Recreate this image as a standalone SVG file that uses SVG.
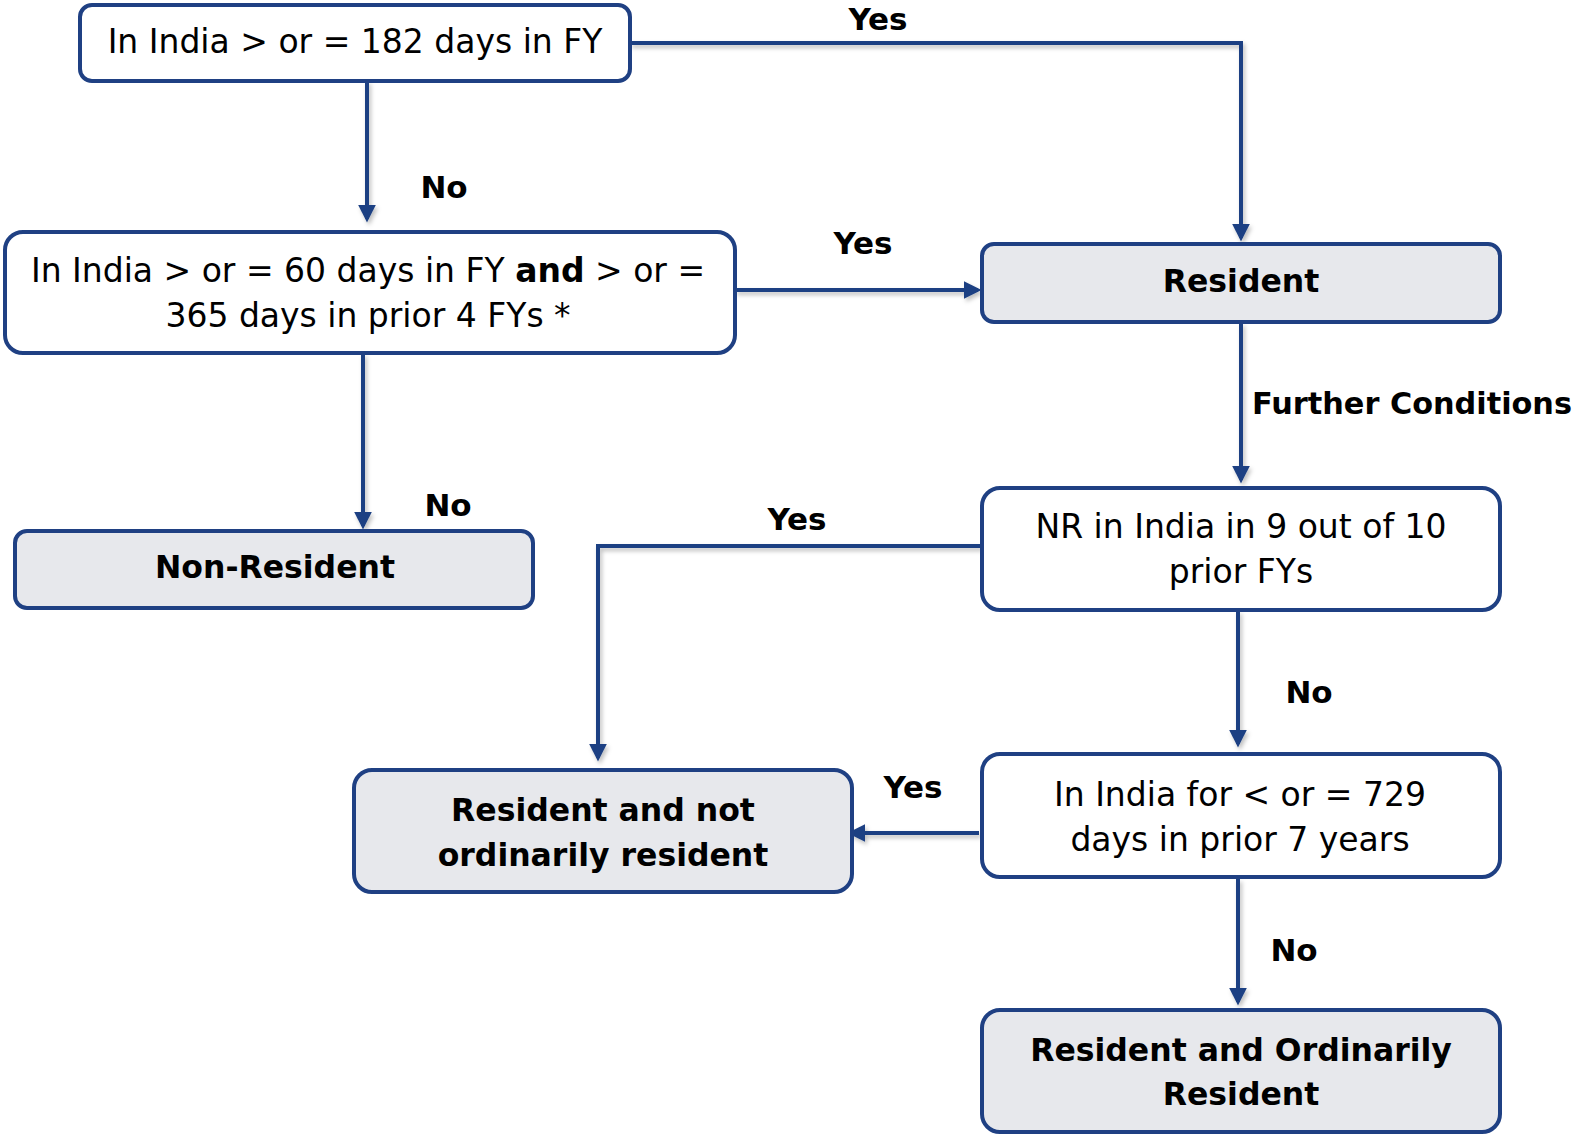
<svg xmlns="http://www.w3.org/2000/svg" width="1577" height="1135" viewBox="0 0 1577 1135">
  <style>
    .box { stroke: #1F4083; stroke-width: 4; }
    .decision { fill: #FFFFFF; }
    .result { fill: #E7E8EC; }
    .txt { font-family: "DejaVu Sans", "Liberation Sans", sans-serif; font-size: 33px; fill: #000; text-anchor: middle; dominant-baseline: central; }
    .bold { font-weight: bold; }
    .res { font-size: 31.5px; }
    .lbl { font-family: "DejaVu Sans", "Liberation Sans", sans-serif; font-size: 31px; font-weight: bold; fill: #000; dominant-baseline: central; }
    .wire { fill: none; stroke: #1F4083; stroke-width: 4; marker-end: url(#arrow); }
  </style>
  <defs>
    <marker id="arrow" viewBox="0 0 10 10" refX="8" refY="5" markerWidth="4.5" markerHeight="4.5" orient="auto" markerUnits="strokeWidth">
      <path d="M0,0 L10,5 L0,10 z" fill="#1F4083"/>
    </marker>
    <filter id="shadow" x="-5%" y="-5%" width="110%" height="120%">
      <feDropShadow dx="2" dy="3" stdDeviation="2" flood-color="#000" flood-opacity="0.25"/>
    </filter>
  </defs>

  <rect width="1577" height="1135" fill="#FFFFFF"/>

  <!-- connectors -->
  <g id="connectors" filter="url(#shadow)">
    <path class="wire" d="M630,43 H1241 V238"/>
    <path class="wire" d="M367,81 V219"/>
    <path class="wire" d="M735,290 H978"/>
    <path class="wire" d="M363,354 V526"/>
    <path class="wire" d="M1241,323 V480"/>
    <path class="wire" d="M981,546 H598 V758"/>
    <path class="wire" d="M1238,611 V744"/>
    <path class="wire" d="M979,833 H851"/>
    <path class="wire" d="M1238,879 V1002"/>
  </g>

  <!-- connector labels -->
  <g id="labels">
    <text class="lbl" x="878" y="19" text-anchor="middle">Yes</text>
    <text class="lbl" x="444" y="187" text-anchor="middle">No</text>
    <text class="lbl" x="863" y="243" text-anchor="middle">Yes</text>
    <text class="lbl" x="1252" y="403" textLength="320" lengthAdjust="spacingAndGlyphs">Further Conditions</text>
    <text class="lbl" x="448" y="505" text-anchor="middle">No</text>
    <text class="lbl" x="797" y="519" text-anchor="middle">Yes</text>
    <text class="lbl" x="1309" y="692" text-anchor="middle">No</text>
    <text class="lbl" x="913" y="787" text-anchor="middle">Yes</text>
    <text class="lbl" x="1294" y="950" text-anchor="middle">No</text>
  </g>

  <!-- nodes -->
  <g id="node-182">
    <rect class="box decision" x="80" y="5" width="550" height="76" rx="12"/>
    <text class="txt" x="355" y="41">In India &gt; or = 182 days in FY</text>
  </g>

  <g id="node-60">
    <rect class="box decision" x="5" y="232" width="730" height="121" rx="18"/>
    <text class="txt" x="368" y="270">In India &gt; or = 60 days in FY <tspan class="bold">and</tspan> &gt; or =</text>
    <text class="txt" x="368" y="315">365 days in prior 4 FYs *</text>
  </g>

  <g id="node-resident">
    <rect class="box result" x="982" y="244" width="518" height="78" rx="12"/>
    <text class="txt bold res" x="1241" y="281">Resident</text>
  </g>

  <g id="node-nonresident">
    <rect class="box result" x="15" y="531" width="518" height="77" rx="12"/>
    <text class="txt bold res" x="275" y="567">Non-Resident</text>
  </g>

  <g id="node-nr">
    <rect class="box decision" x="982" y="488" width="518" height="122" rx="18"/>
    <text class="txt" x="1241" y="526">NR in India in 9 out of 10</text>
    <text class="txt" x="1241" y="571">prior FYs</text>
  </g>

  <g id="node-rnor">
    <rect class="box result" x="354" y="770" width="498" height="122" rx="18"/>
    <text class="txt bold res" x="603" y="810">Resident and not</text>
    <text class="txt bold res" x="603" y="855">ordinarily resident</text>
  </g>

  <g id="node-729">
    <rect class="box decision" x="982" y="754" width="518" height="123" rx="18"/>
    <text class="txt" x="1240" y="794">In India for &lt; or = 729</text>
    <text class="txt" x="1240" y="839">days in prior 7 years</text>
  </g>

  <g id="node-ror">
    <rect class="box result" x="982" y="1010" width="518" height="122" rx="18"/>
    <text class="txt bold res" x="1241" y="1050">Resident and Ordinarily</text>
    <text class="txt bold res" x="1241" y="1094">Resident</text>
  </g>
</svg>
